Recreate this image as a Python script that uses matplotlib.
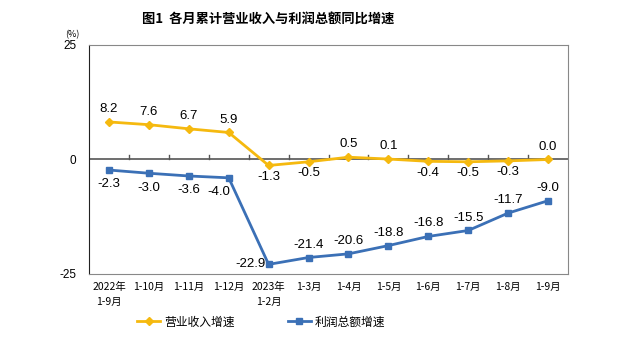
import matplotlib
matplotlib.use("Agg")
import matplotlib.pyplot as plt
import numpy as np

plt.rcParams['font.family'] = ['Noto Sans CJK SC', 'DejaVu Sans']

categories = ["2022年\n1-9月", "1-10月", "1-11月", "1-12月", "2023年\n1-2月", "1-3月",
              "1-4月", "1-5月", "1-6月", "1-7月", "1-8月", "1-9月"]
revenue = [8.2, 7.6, 6.7, 5.9, -1.3, -0.5, 0.5, 0.1, -0.4, -0.5, -0.3, 0.0]
profit = [-2.3, -3.0, -3.6, -4.0, -22.9, -21.4, -20.6, -18.8, -16.8, -15.5, -11.7, -9.0]

yellow = "#F5B90F"
blue = "#3B70B6"

fig = plt.figure(figsize=(6.26, 3.61), dpi=100)
ax = fig.add_axes([89/626, 1-274/361, (568-89)/626, (274-45)/361])

x = np.arange(len(categories))
ax.plot(x, revenue, color=yellow, lw=2, marker="D", ms=4, label="营业收入增速")
ax.plot(x, profit, color=blue, lw=2, marker="s", ms=4, label="利润总额增速")

ax.set_xlim(-0.5, len(categories) - 0.5)
ax.set_ylim(-25, 25)
ax.set_yticks([-25, 0, 25])
ax.set_yticklabels(["-25", "0", "25"], fontsize=8.5, family=["Liberation Sans"])
ax.tick_params(axis="y", length=0, pad=9)
ax.set_xticks(x)
ax.set_xticklabels(categories, fontsize=7.5, va="top", linespacing=1.6)
ax.tick_params(axis="x", length=0, pad=6)
for lab in ax.get_xticklabels():
    lab.set_horizontalalignment("center")

# zero line with category-boundary ticks
ax.axhline(0, color="#555555", lw=1.2, zorder=1)
for b in np.arange(0.5, len(categories) - 0.5, 1):
    ax.plot([b, b], [0, 0.9], color="#555555", lw=1, zorder=1)

for s in ["top", "right", "bottom"]:
    ax.spines[s].set_color("#888888")
ax.spines["left"].set_color("#222222")

# revenue labels
for i, v in enumerate(revenue):
    if v >= 0:
        ax.annotate(f"{v:.1f}", (i, v), xytext=(0, 5), textcoords="offset points",
                    ha="center", va="bottom", fontsize=9.5, family=["Liberation Sans"])
    else:
        ax.annotate(f"{v:.1f}", (i, v), xytext=(0, -4), textcoords="offset points",
                    ha="center", va="top", fontsize=9.5, family=["Liberation Sans"])

# profit labels
for i, v in enumerate(profit):
    if i < 3:
        off, ha, va = (0, -6), "center", "top"
    elif i == 3:
        off, ha, va = (-7, -6), "center", "top"
    elif i == 4:
        off, ha, va = (-2, 0), "right", "center"
    else:
        off, ha, va = (0, 5), "center", "bottom"
    ax.annotate(f"{v:.1f}", (i, v), xytext=off, textcoords="offset points",
                ha=ha, va=va, fontsize=9.5, family=["Liberation Sans"])

fig.text(268/626, 1-20/361, "图1  各月累计营业收入与利润总额同比增速", ha="center", va="center",
         fontsize=9.5, fontweight="bold")
fig.text(72/626, 1-35/361, "(%)", ha="center", va="center", fontsize=6.5)

leg = fig.legend(loc="center", bbox_to_anchor=(261/626, 1-322/361), ncol=2, frameon=False,
                 fontsize=8.5, handlelength=2.0, columnspacing=4.5, handletextpad=0.3)

fig.savefig("out.png", dpi=100)
